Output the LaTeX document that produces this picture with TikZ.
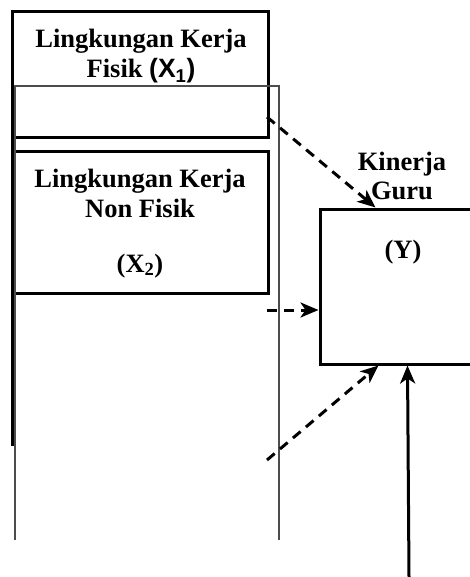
\documentclass[tikz,border=0pt]{standalone}
\usepackage{fontspec}
\setmainfont{Liberation Serif}
\newfontfamily\sansb{Liberation Sans}
\usetikzlibrary{arrows.meta}
\begin{document}
\begin{tikzpicture}[x=1pt,y=-1pt,
  box/.style={draw=black, line width=3pt, inner sep=0pt},
  txt/.style={font=\fontsize{26.5}{30}\selectfont\bfseries, inner sep=0pt, anchor=base},
  thinline/.style={draw=black!70, line width=1.5pt},
  arrowtip/.style={-{Stealth[length=18pt,width=15pt,inset=5pt]}},
  dasharrow/.style={draw, line width=3pt, dash pattern=on 10pt off 7pt, arrowtip},
  solidarrow/.style={draw, line width=3pt, arrowtip}]
\clip (0,0) rectangle (470,577);
% boxes
\node[box, minimum width=256pt, minimum height=126pt] (b1) at (140,75) {};
\node[box, minimum width=255pt, minimum height=141pt] (b2) at (140.5,222.5) {};
\node[box, minimum width=155pt, minimum height=155pt] (yb) at (397.5,286.5) {};
% texts
\node[txt] (t1a) at (141,48) {Lingkungan Kerja};
\node[txt] (t1b) at (141,78) {Fisik {\sansb(X\textsubscript{1})}};
\node[txt] (t2a) at (140,187) {Lingkungan Kerja};
\node[txt] (t2b) at (140,217) {Non Fisik};
\node[txt] (t2c) at (140,272) {(X\textsubscript{2})};
\node[txt] (tya) at (402,171) {Kinerja};
\node[txt] (tyb) at (402,200) {Guru};
\node[txt] (tyc) at (403,258) {(Y)};
% frame lines
\draw[thinline] (15,540) -- (15,86) -- (279,86) -- (279,540);
\draw[line width=3pt] (12,138) -- (12,446);
% connectors
\coordinate (s1) at (267,117);
\coordinate (s2) at (267,310);
\coordinate (s3) at (267,460);
\coordinate (s4) at (409,577);
\draw[dasharrow] (s1) -- ([xshift=57pt]yb.north west);
\draw[dasharrow] (s2) -- ([yshift=-23.5pt]yb.west);
\draw[dasharrow] (s3) -- ([xshift=60pt]yb.south west);
\draw[solidarrow] (s4) -- ([xshift=89pt]yb.south west);
\end{tikzpicture}
\end{document}
